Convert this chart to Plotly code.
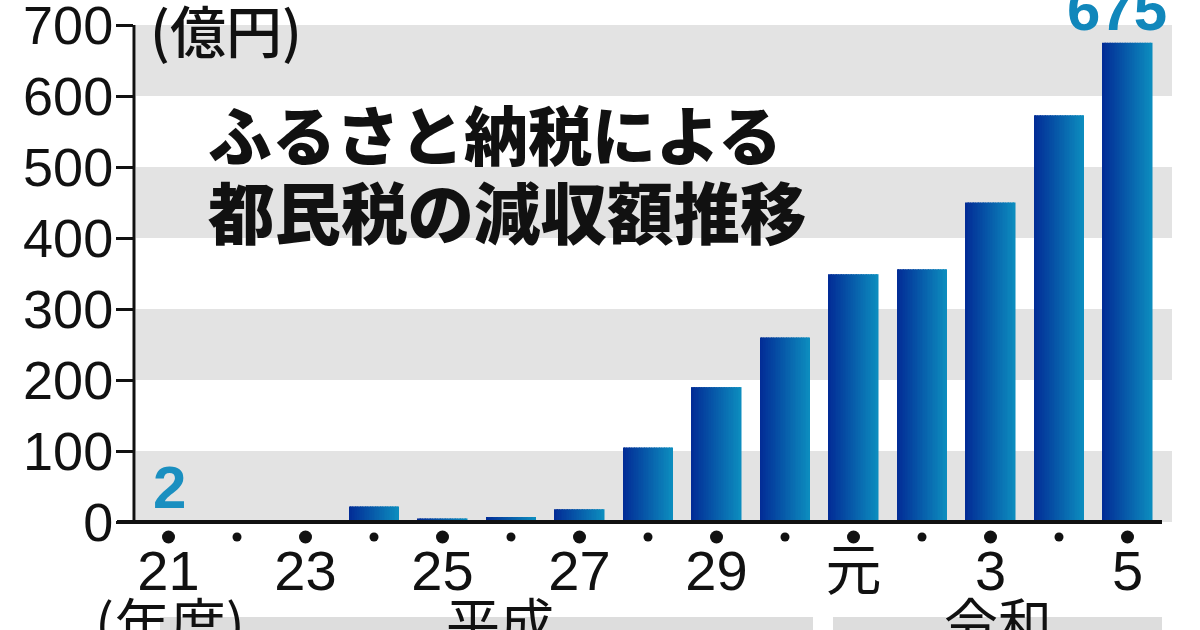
import plotly.graph_objects as go

years = ["21", "22", "23", "24", "25", "26", "27", "28", "29", "30", "元", "2", "3", "4", "5"]
values = [2, 0.5, 0.5, 22, 5, 7, 18, 105, 190, 260, 349, 356, 450, 573, 675]
tick_labels = ["21", "", "23", "", "25", "", "27", "", "29", "", "元", "", "3", "", "5"]
band_starts = [0, 200, 400, 600]
y_ticks = [0, 100, 200, 300, 400, 500, 600, 700]

W, H = 1200, 630
L, R, T, BASE = 134, 1172, 25, 522
B = 546  # bottom of the plot area, below the baseline, leaves room for the dots
STEP = 68.5
X0 = 168.5
SANS = "Liberation Sans, Arial, sans-serif"
CJK = "Noto Sans CJK JP, sans-serif"
idx = list(range(len(years)))
y_per_px = 700 / (BASE - T)


def mix(a, b, t):
    return "rgb(%d,%d,%d)" % tuple(round(a[i] + (b[i] - a[i]) * t) for i in range(3))


def px_x(px):
    return (px - L) / (R - L)


def px_y(px):
    return (B - px) / (B - T)


fig = go.Figure()
n = 30
bw = 50 / STEP
left, right = (2, 44, 150), (12, 140, 190)
for i in range(n):
    fig.add_bar(
        x=idx, y=values,
        width=bw / n + 0.004 if i < n - 1 else bw / n,
        offset=-bw / 2 + i * bw / n,
        marker=dict(color=mix(left, right, i / (n - 1)), line=dict(width=0)),
        hoverinfo="skip", showlegend=False,
    )

fig.add_scatter(
    x=idx, y=[-15 * y_per_px] * len(idx), mode="markers",
    marker=dict(color="#111111", opacity=1, size=[13 if i % 2 == 0 else 9 for i in idx], line=dict(width=0)),
    showlegend=False, hoverinfo="skip",
)

shapes = []
for s in band_starts:
    shapes.append(dict(type="rect", xref="paper", yref="y", x0=px_x(136), x1=1, y0=s, y1=s + 100,
                       fillcolor="#e3e3e3", line_width=0, layer="below"))
for a, b in [(160, 813), (833, 1162)]:
    shapes.append(dict(type="rect", xref="paper", yref="paper",
                       x0=px_x(a), x1=px_x(b), y0=px_y(640), y1=px_y(617),
                       fillcolor="#dddddd", line_width=0, layer="below"))
shapes.append(dict(type="line", xref="paper", yref="y", x0=px_x(117), x1=px_x(1162),
                   y0=0, y1=0, line=dict(color="#111111", width=4), layer="above"))
shapes.append(dict(type="line", xref="paper", yref="y", x0=px_x(134), x1=px_x(134),
                   y0=0, y1=700, line=dict(color="#111111", width=3), layer="above"))
fig.update_layout(shapes=shapes)

annotations = [
    dict(text="ふるさと納税による", x=px_x(206), y=px_y(132), size=64, fam=CJK, w=900, col="#111111", xa="left"),
    dict(text="都民税の減収額推移", x=px_x(206), y=px_y(210), size=66.5, fam=CJK, w=900, col="#111111", xa="left"),
    dict(text="(億円)", x=px_x(148), y=px_y(29), size=56, fam=CJK, w=500, col="#111111", xa="left"),
    dict(text="(年度)", x=px_x(170), y=px_y(620), size=56, fam=CJK, w=400, col="#111111", xa="center"),
    dict(text="平成", x=px_x(500), y=px_y(620), size=54, fam=CJK, w=400, col="#111111", xa="center"),
    dict(text="令和", x=px_x(998), y=px_y(620), size=54, fam=CJK, w=400, col="#111111", xa="center"),
    dict(text=str(values[0]), x=px_x(169), y=px_y(487), size=60, fam=SANS, w=700, col="#1a8fc0", xa="center"),
    dict(text=str(values[-1]), x=px_x(1117), y=px_y(9), size=60, fam=SANS, w=700, col="#1187bb", xa="center"),
]
fig.update_layout(annotations=[
    dict(text=a["text"], x=a["x"], y=a["y"], xref="paper", yref="paper", xanchor=a["xa"], yanchor="middle",
         showarrow=False, font=dict(family=a["fam"], size=a["size"], color=a["col"], weight=a["w"]))
    for a in annotations
])

fig.update_layout(
    width=W, height=H, autosize=False,
    margin=dict(l=L, r=W - R, t=T, b=H - B, pad=0, autoexpand=False),
    paper_bgcolor="white", plot_bgcolor="white",
    barmode="overlay", showlegend=False,
    font=dict(family=SANS, color="#111111"),
)
fig.update_xaxes(
    range=[(L - X0) / STEP, (R - X0) / STEP], showgrid=False, zeroline=False, showline=False,
    tickmode="array", tickvals=idx, ticktext=tick_labels, ticks="", ticklabelstandoff=-13,
    ticklabeloverflow="allow",
    tickfont=dict(family="Liberation Sans, Noto Sans CJK JP, sans-serif", size=56, color="#111111"), tickangle=0,
)
fig.update_yaxes(
    range=[-(B - BASE) * y_per_px, 700], showgrid=False, zeroline=False, showline=False,
    tickmode="array", tickvals=y_ticks, ticks="outside", ticklen=17, tickwidth=3, tickcolor="#111111",
    ticklabelstandoff=-8, ticklabeloverflow="allow",
    tickfont=dict(family=SANS, size=54, color="#111111"),
)
fig.write_html("out.html", config=dict(displayModeBar=False),
               post_script="document.body.style.margin='0';document.documentElement.style.overflow='hidden';")
